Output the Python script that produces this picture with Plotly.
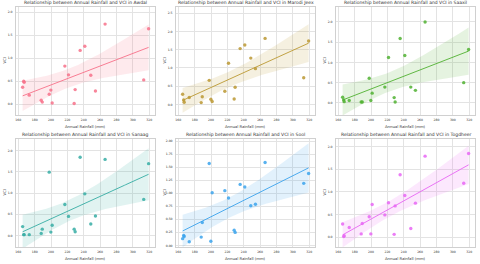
import numpy as np
import plotly.graph_objects as go

# ---- data ----
rainfall = [165.3, 166.6, 167.2, 173.4, 188.0, 189.3, 197.8, 199.8, 201.4, 216.9,
            221.4, 228.3, 229.5, 235.6, 241.3, 248.6, 254.3, 266.1, 313.3, 319.3]

regions = ["Awdal", "Marodi Jeex", "Saaxil", "Sanaag", "Sool", "Togdheer"]

vci_awdal = [0.37, 0.50, 0.48, 0.20, 0.09, 0.05, 0.22, 0.31, 0.03, 0.83,
             0.64, 0.02, 0.32, 1.17, 1.26, 0.63, 0.29, 1.74, 0.53, 1.64]
vci_marodi = [0.28, 0.12, 0.06, 0.19, 0.05, 0.21, 0.66, 0.14, 0.08, 0.36,
              1.13, 0.15, 0.47, 1.53, 1.63, 1.27, 0.98, 1.81, 0.73, 1.74]
vci_saaxil = [0.14, 0.07, 0.03, 0.06, 0.02, 0.02, 0.61, 0.06, 0.24, 0.39,
              1.12, 0.13, 0.02, 1.59, 1.17, 0.39, 0.31, 2.00, 0.50, 1.32]
vci_sanaag = [0.21, 0.02, 0.02, 0.02, 0.05, 0.15, 1.49, 0.08, 0.24, 0.73,
              0.45, 0.15, 0.09, 1.84, 0.98, 0.27, 0.46, 1.79, 0.85, 1.69]
vci_sool = [0.13, 0.19, 0.17, 0.07, 0.16, 0.44, 1.57, 0.08, 1.01, 1.05,
            0.91, 0.29, 0.25, 1.17, 1.12, 0.76, 0.79, 1.59, 1.19, 1.38]
vci_togdheer = [0.29, 0.01, 0.03, 0.21, 0.07, 0.30, 0.45, 0.07, 0.72, 0.49,
                0.76, 0.06, 0.69, 1.38, 0.92, 0.19, 0.75, 1.79, 1.19, 1.85]

series = [vci_awdal, vci_marodi, vci_saaxil, vci_sanaag, vci_sool, vci_togdheer]
colors = ["#f77189", "#bb9832", "#50b131", "#36ada4", "#3ba3ec", "#e866f4"]
fills = ["rgba(247,113,137,0.15)", "rgba(187,152,50,0.15)", "rgba(80,177,49,0.15)",
         "rgba(54,173,164,0.15)", "rgba(59,163,236,0.15)", "rgba(232,102,244,0.15)"]
y_ranges = [[-0.23, 2.11], [-0.29, 2.67], [-0.30, 2.37],
            [-0.27, 2.27], [-0.03, 2.04], [-0.22, 2.17]]
y_dticks = [0.5, 0.5, 0.5, 0.5, 0.25, 0.5]
y_formats = [".1f", ".1f", ".1f", ".1f", ".2f", ".1f"]
x_ticks = [160, 180, 200, 220, 240, 260, 280, 300, 320]

W, H = 480, 264
col_px = [(16, 155), (176, 315), (336, 475)]
row_px = [(7, 115), (139, 247)]

fig = go.Figure()
TXT = "#333333"
GRID = "#e3e3e3"
EDGE = "#d0d0d0"
FONT = "DejaVu Sans, Arial, sans-serif"

x = np.array(rainfall)
for i, (name, y) in enumerate(zip(regions, series)):
    y = np.array(y)
    r, c = divmod(i, 3)
    xa = "x" if i == 0 else f"x{i+1}"
    ya = "y" if i == 0 else f"y{i+1}"
    b, a = np.polyfit(x, y, 1)
    n = len(x)
    resid = y - (a + b * x)
    s = np.sqrt(np.sum(resid ** 2) / (n - 2))
    xbar = x.mean()
    sxx = np.sum((x - xbar) ** 2)
    xg = np.linspace(x.min(), x.max(), 100)
    yg = a + b * xg
    se = s * np.sqrt(1.0 / n + (xg - xbar) ** 2 / sxx)
    t = 2.101
    lo, hi = yg - t * se, yg + t * se

    fig.add_trace(go.Scatter(x=np.concatenate([xg, xg[::-1]]),
                             y=np.concatenate([hi, lo[::-1]]),
                             fill="toself", fillcolor=fills[i], line=dict(width=0),
                             mode="lines", hoverinfo="skip", showlegend=False,
                             xaxis=xa, yaxis=ya))
    fig.add_trace(go.Scatter(x=x, y=y, mode="markers",
                             marker=dict(color=colors[i], size=3.4, opacity=0.85,
                                         line=dict(width=0)),
                             showlegend=False, xaxis=xa, yaxis=ya))
    fig.add_trace(go.Scatter(x=xg, y=yg, mode="lines",
                             line=dict(color=colors[i], width=0.9),
                             showlegend=False, xaxis=xa, yaxis=ya))

    x0, x1 = col_px[c]
    y0, y1 = row_px[r]
    dom_x = [x0 / W, x1 / W]
    dom_y = [1 - y1 / H, 1 - y0 / H]
    axkey = "xaxis" if i == 0 else f"xaxis{i+1}"
    aykey = "yaxis" if i == 0 else f"yaxis{i+1}"
    fig.update_layout(**{
        axkey: dict(domain=dom_x, anchor=ya, range=[157.2, 327.1],
                    tickvals=x_ticks, ticktext=[str(v) for v in x_ticks],
                    showgrid=True, gridcolor=GRID, gridwidth=0.6,
                    zeroline=False, showline=True, linecolor=EDGE, linewidth=0.6,
                    mirror=True, ticks="", tickfont=dict(size=3.1, color=TXT),
                    ticklabelstandoff=1, automargin=False),
        aykey: dict(domain=dom_y, anchor=xa, range=y_ranges[i],
                    tick0=0, dtick=y_dticks[i], tickformat=y_formats[i],
                    showgrid=True, gridcolor=GRID, gridwidth=0.6,
                    zeroline=False, showline=True, linecolor=EDGE, linewidth=0.6,
                    mirror=True, ticks="", tickfont=dict(size=3.1, color=TXT),
                    ticklabelstandoff=2, automargin=False),
    })
    fig.add_annotation(text=f"Relationship between Annual Rainfall and VCI in {name}",
                       xref="paper", yref="paper",
                       x=(x0 + x1) / 2 / W, y=1 - (y0 - 1) / H,
                       xanchor="center", yanchor="bottom", showarrow=False,
                       borderpad=0, font=dict(size=4.5, color=TXT))
    fig.add_annotation(text="Annual Rainfall (mm)", xref="paper", yref="paper",
                       x=(x0 + x1) / 2 / W, y=1 - (y1 + 11) / H,
                       xanchor="center", yanchor="middle", showarrow=False,
                       borderpad=0, font=dict(size=3.8, color=TXT))
    fig.add_annotation(text="VCI", xref="paper", yref="paper",
                       x=(x0 - 12.5) / W, y=1 - (y0 + y1) / 2 / H, textangle=-90,
                       xanchor="center", yanchor="middle", showarrow=False,
                       borderpad=0, font=dict(size=3.8, color=TXT))

fig.update_layout(width=W, height=H, margin=dict(l=0, r=0, t=0, b=0),
                  paper_bgcolor="white", plot_bgcolor="white",
                  font=dict(family=FONT, color=TXT))

fig.write_html("out.html",
               config={"displayModeBar": False},
               post_script="document.body.style.margin='0';"
                           "document.body.style.overflow='hidden';")
